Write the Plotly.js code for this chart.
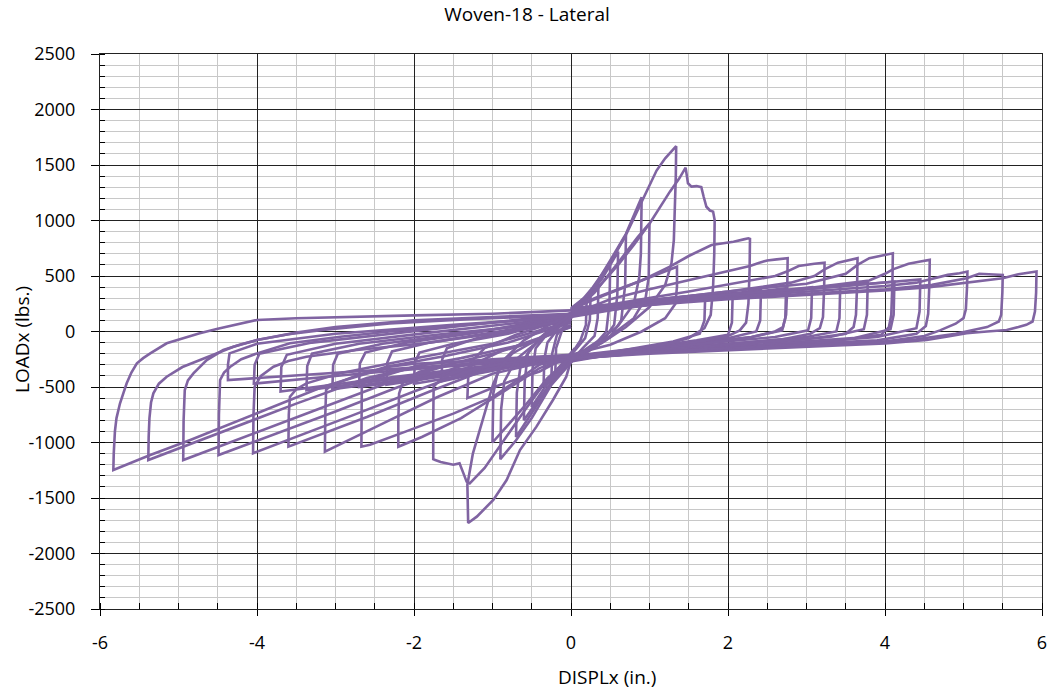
<!DOCTYPE html>
<html>
<head>
<meta charset="utf-8">
<script src="https://cdn.plot.ly/plotly-3.0.1.min.js"></script>
<style>html,body{margin:0;padding:0;background:#fff;}#chart{width:1054px;height:692px;}</style>
</head>
<body>
<div id="chart"></div>
<script>
// ---- Data (DISPLx in inches, LOADx in lbs) ----
const chartTitle = 'Woven-18 - Lateral';
const xTitle = 'DISPLx (in.)';
const yTitle = 'LOADx (lbs.)';
const xTickVals = [-6, -4, -2, 0, 2, 4, 6];
const xTickText = ['-6', '-4', '-2', '0', '2', '4', '6'];
const yTickVals = [-2500, -2000, -1500, -1000, -500, 0, 500, 1000, 1500, 2000, 2500];
const yTickText = ['-2500', '-2000', '-1500', '-1000', '-500', '0', '500', '1000', '1500', '2000', '2500'];

// small cycles around the origin, positive excursions
const centerPosX = [
  [0, 0.1, 0.2, 0.19, 0.12, 0],
  [-0.05, 0.08, 0.25, 0.24, 0.18, 0.05, -0.05],
  [0, 0.15, 0.35, 0.34, 0.3, 0.15, 0],
  [0, 0.2, 0.35, 0.5, 0.49, 0.45, 0.3, 0.1, 0],
  [0, 0.2, 0.4, 0.6, 0.59, 0.55, 0.4, 0.2, 0],
  [0, 0.2, 0.45, 0.7, 0.69, 0.64, 0.5, 0.25, 0],
  [0, 0.25, 0.5, 0.7, 0.9, 0.89, 0.87, 0.8, 0.6, 0.4, 0.1, 0],
  [0, 0.3, 0.6, 0.85, 1.0, 0.99, 0.95, 0.8, 0.5, 0.2, 0]
];
const centerPosY = [
  [140, 220, 300, 60, -80, -210],
  [100, 200, 340, 100, -60, -170, -250],
  [120, 260, 430, 120, -40, -150, -270],
  [200, 300, 450, 620, 250, 0, -120, -200, -280],
  [160, 300, 480, 720, 330, 60, -90, -190, -260],
  [180, 290, 560, 870, 420, 100, -50, -160, -240],
  [210, 350, 640, 880, 1210, 700, 490, 250, 50, -60, -200, -260],
  [150, 350, 620, 850, 975, 490, 300, 120, -40, -170, -220]
];

// primary positive excursions
const posPrimaryX = [
  [0, 0.15, 0.28, 0.5, 0.7, 0.9, 1.09, 1.2, 1.28, 1.34, 1.335, 1.32, 1.31, 1.28, 1.2, 1.0, 0.7, 0.4, 0.15, 0],
  [0, 0.3, 0.6, 0.8, 1.004, 1.26, 1.38, 1.46, 1.49, 1.535, 1.6, 1.66, 1.69, 1.725, 1.77, 1.81, 1.83, 1.825, 1.81, 1.78, 1.7, 1.5, 1.2, 0.8, 0.4, 0],
  [0, 0.3, 0.6, 0.9, 1.26, 1.5, 1.79, 1.95, 2.07, 2.2, 2.26, 2.28, 2.275, 2.26, 2.23, 2.15, 2.0, 1.5, 1.0, 0.5, 0],
  [0, 0.5, 1.0, 1.5, 2.0, 2.28, 2.4, 2.5, 2.62, 2.75, 2.76, 2.755, 2.74, 2.7, 2.6, 2.3, 1.8, 1.2, 0.6, 0],
  [0, 0.8, 1.5, 2.2, 2.6, 2.75, 2.9, 3.1, 3.23, 3.225, 3.21, 3.17, 3.05, 2.7, 2.0, 1.2, 0.5, 0],
  [0, 1.0, 2.0, 2.8, 3.1, 3.23, 3.4, 3.5, 3.65, 3.645, 3.63, 3.6, 3.5, 3.0, 2.2, 1.4, 0.6, 0],
  [0, 1.0, 2.0, 3.0, 3.5, 3.65, 3.8, 4.0, 4.10, 4.095, 4.08, 4.05, 3.95, 3.4, 2.6, 1.6, 0.8, 0],
  [0, 1.0, 2.0, 3.0, 3.8, 4.0, 4.10, 4.3, 4.45, 4.57, 4.565, 4.55, 4.52, 4.4, 3.9, 3.0, 2.0, 1.0, 0],
  [0, 1.0, 2.0, 3.0, 4.0, 4.4, 4.57, 4.8, 4.95, 5.05, 5.045, 5.03, 5.0, 4.9, 4.7, 4.5, 4.0, 3.0, 2.0, 1.0, 0],
  [0, 1.0, 2.0, 3.0, 4.0, 4.6, 5.04, 5.2, 5.4, 5.5, 5.495, 5.48, 5.45, 5.3, 4.9, 4.4, 3.8, 2.8, 1.5, 0],
  [0, 1.0, 2.0, 3.0, 4.0, 4.57, 5.04, 5.5, 5.7, 5.85, 5.93, 5.925, 5.91, 5.88, 5.8, 5.7, 5.55, 5.3, 5.04, 4.8, 4.53, 4.0, 3.0, 2.0, 1.0, 0]
];
const posPrimaryY = [
  [190, 290, 400, 620, 870, 1170, 1450, 1560, 1620, 1670, 1400, 1050, 824, 614, 420, 220, 40, -100, -200, -250],
  [160, 360, 600, 780, 975, 1260, 1380, 1476, 1335, 1305, 1310, 1300, 1214, 1124, 1090, 1080, 1004, 700, 400, 150, 30, -60, -120, -170, -210, -240],
  [200, 300, 380, 460, 584, 680, 779, 795, 809, 830, 840, 835, 550, 250, 80, 10, -40, -110, -160, -200, -250],
  [150, 290, 380, 460, 540, 590, 620, 640, 650, 665, 660, 400, 150, 40, 0, -50, -100, -150, -190, -220],
  [180, 280, 360, 450, 500, 540, 590, 610, 620, 400, 130, 30, -20, -70, -110, -160, -210, -260],
  [170, 280, 360, 440, 500, 560, 620, 635, 660, 420, 150, 40, -20, -70, -110, -150, -200, -230],
  [190, 280, 360, 430, 520, 600, 660, 690, 705, 450, 150, 40, -30, -80, -110, -150, -200, -250],
  [160, 270, 330, 390, 460, 520, 560, 610, 630, 645, 420, 160, 50, -20, -80, -110, -140, -180, -220],
  [180, 260, 310, 360, 410, 440, 470, 510, 525, 540, 400, 200, 120, 70, 10, -40, -90, -120, -150, -190, -240],
  [170, 255, 300, 340, 380, 420, 480, 520, 515, 510, 350, 150, 90, 40, -20, -70, -100, -130, -170, -230],
  [150, 240, 290, 330, 370, 400, 440, 480, 515, 530, 540, 350, 180, 90, 60, 40, 13, 0, -16, -45, -77, -107, -140, -170, -200, -240]
];

// trailing positive excursions
const posTrailX = [
  [0, 0.4, 0.9, 1.35, 1.35, 1.33, 1.2, 0.9, 0.5, 0],
  [0, 0.6, 1.2, 1.71, 1.70, 1.64, 1.3, 0.8, 0],
  [0, 0.8, 1.5, 2.06, 2.05, 2.0, 1.6, 1.0, 0.5, 0],
  [0, 1.0, 1.8, 2.42, 2.41, 2.36, 2.0, 1.4, 0.7, 0],
  [0, 1.0, 2.0, 2.74, 2.73, 2.69, 2.3, 1.6, 0.8, 0],
  [0, 1.0, 2.0, 3.07, 3.06, 3.02, 2.6, 1.8, 0.9, 0],
  [0, 1.2, 2.4, 3.43, 3.42, 3.38, 3.0, 2.2, 1.2, 0],
  [0, 1.2, 2.5, 3.78, 3.77, 3.73, 3.3, 2.4, 1.2, 0],
  [0, 1.3, 2.8, 4.12, 4.11, 4.07, 3.6, 2.6, 1.3, 0],
  [0, 1.4, 3.0, 4.45, 4.44, 4.4, 3.9, 2.8, 1.4, 0]
];
const posTrailY = [
  [200, 320, 460, 584, 404, 250, 120, 0, -120, -210],
  [140, 250, 300, 330, 100, -20, -90, -150, -250],
  [190, 260, 310, 345, 80, -30, -80, -140, -180, -220],
  [160, 270, 320, 375, 100, 0, -60, -110, -170, -260],
  [210, 280, 330, 390, 120, 10, -50, -100, -160, -230],
  [130, 250, 320, 400, 120, 10, -50, -100, -160, -270],
  [180, 270, 340, 420, 120, 0, -50, -100, -150, -240],
  [150, 260, 350, 440, 150, 20, -50, -100, -160, -220],
  [200, 280, 370, 450, 150, 20, -60, -110, -170, -250],
  [170, 270, 380, 470, 180, 30, -50, -110, -170, -230]
];

// small cycles around the origin, negative excursions
const centerNegX = [
  [0, -0.1, -0.2, -0.19, -0.12, 0],
  [0.05, -0.08, -0.25, -0.24, -0.18, -0.05, 0.05],
  [0, -0.15, -0.35, -0.34, -0.3, -0.15, 0],
  [0, -0.2, -0.35, -0.5, -0.49, -0.45, -0.3, -0.1, 0],
  [0, -0.2, -0.4, -0.6, -0.59, -0.55, -0.4, -0.2, 0],
  [0, -0.2, -0.45, -0.7, -0.69, -0.64, -0.5, -0.25, 0],
  [0, -0.25, -0.5, -0.7, -0.9, -0.89, -0.85, -0.7, -0.4, 0],
  [0, -0.3, -0.6, -0.85, -1.0, -0.99, -0.93, -0.75, -0.4, 0]
];
const centerNegY = [
  [-200, -290, -370, -150, 0, 110],
  [-150, -260, -420, -200, -30, 80, 180],
  [-240, -320, -500, -250, -100, 40, 140],
  [-200, -380, -520, -680, -350, -150, -20, 100, 170],
  [-260, -420, -600, -800, -450, -200, -60, 60, 130],
  [-230, -400, -680, -950, -550, -300, -140, 20, 150],
  [-280, -480, -780, -980, -1150, -700, -450, -250, -80, 120],
  [-230, -420, -680, -880, -1000, -560, -350, -200, -60, 160]
];

// primary negative excursions
const negPrimaryX = [
  [0, -0.06, -0.23, -0.44, -0.65, -0.82, -0.99, -1.2, -1.31, -1.315, -1.32, -1.25, -1.1, -0.99, -0.85, -0.6, -0.3, 0],
  [0, -0.3, -0.6, -0.9, -1.1, -1.29, -1.33, -1.37, -1.42, -1.5, -1.59, -1.66, -1.73, -1.755, -1.755, -1.75, -1.71, -1.59, -1.45, -1.29, -1.05, -0.86, -0.44, 0],
  [0, -0.4, -0.9, -1.4, -1.9, -2.1, -2.2, -2.2, -2.19, -2.15, -2.1, -1.93, -1.7, -1.5, -1.0, -0.5, 0],
  [0, -0.4, -0.99, -1.5, -2.1, -2.56, -2.67, -2.67, -2.665, -2.63, -2.56, -2.35, -2.0, -1.4, -0.7, 0],
  [0, -0.5, -1.0, -1.7, -2.4, -2.9, -3.135, -3.13, -3.12, -3.07, -2.99, -2.77, -2.35, -1.6, -0.8, 0],
  [0, -0.6, -1.1, -1.8, -2.6, -3.2, -3.6, -3.595, -3.58, -3.5, -3.37, -2.94, -2.52, -1.88, -1.0, 0],
  [0, -0.7, -1.2, -2.0, -2.8, -3.5, -4.05, -4.045, -4.03, -3.95, -3.79, -3.6, -3.37, -2.73, -1.88, -1.0, 0],
  [0, -0.8, -1.4, -2.2, -3.0, -3.8, -4.49, -4.485, -4.47, -4.42, -4.34, -4.2, -4.0, -3.58, -2.94, -2.31, -1.5, -0.7, 0],
  [0, -1.0, -1.6, -2.4, -3.3, -4.2, -4.94, -4.935, -4.92, -4.88, -4.81, -4.64, -4.43, -4.2, -4.0, -3.6, -3.16, -2.31, -1.3, 0],
  [0, -1.0, -1.8, -2.6, -3.5, -4.5, -5.0, -5.2, -5.385, -5.38, -5.37, -5.35, -5.32, -5.25, -5.15, -4.95, -4.73, -4.5, -4.3, -4.0, -3.5, -3.0, -2.0, -1.0, 0],
  [0, -1.0, -2.0, -2.31, -3.16, -4.0, -4.85, -5.36, -5.6, -5.83, -5.825, -5.81, -5.79, -5.745, -5.7, -5.66, -5.6, -5.53, -5.45, -5.36, -5.15, -4.95, -4.73, -4.5, -4.3, -4.0, -3.5, -3.0, -2.0, -1.0, 0]
];
const negPrimaryY = [
  [-260, -407, -617, -857, -1068, -1338, -1518, -1668, -1725, -1550, -1380, -1100, -750, -470, -250, -80, 50, 170],
  [-250, -430, -720, -1020, -1230, -1368, -1353, -1278, -1188, -1200, -1188, -1175, -1158, -1150, -800, -497, -467, -407, -360, -317, -230, -167, -77, 43],
  [-230, -330, -560, -780, -950, -1010, -1038, -800, -560, -470, -430, -362, -320, -287, -200, -100, 60],
  [-220, -300, -587, -740, -900, -1020, -1038, -700, -500, -460, -437, -392, -317, -240, -130, 40],
  [-260, -300, -380, -590, -830, -1000, -1083, -750, -527, -490, -467, -407, -317, -220, -100, 80],
  [-220, -270, -350, -540, -770, -930, -1038, -750, -587, -520, -467, -377, -317, -227, -110, 90],
  [-240, -270, -330, -540, -760, -950, -1097, -750, -497, -400, -317, -265, -227, -167, -107, -20, 110],
  [-220, -260, -310, -500, -720, -930, -1113, -750, -437, -370, -317, -250, -197, -106, -47, 0, 50, 100, 140],
  [-230, -270, -310, -480, -720, -960, -1158, -800, -527, -440, -377, -257, -167, -115, -77, -25, 13, 73, 110, 150],
  [-210, -250, -290, -420, -650, -920, -1060, -1110, -1158, -950, -780, -640, -557, -470, -407, -320, -257, -190, -137, -77, -10, 40, 100, 130, 160],
  [-230, -260, -290, -317, -497, -737, -977, -1113, -1180, -1248, -1100, -900, -780, -647, -550, -467, -370, -287, -240, -197, -106, -60, -16, 25, 59, 104, 120, 130, 145, 160, 190]
];

// trailing negative excursions
const negTrailX = [
  [0, -0.4, -0.9, -1.32, -1.31, -1.28, -1.1, -0.7, 0],
  [0, -0.6, -1.2, -1.65, -1.64, -1.58, -1.2, -0.6, 0],
  [0, -0.7, -1.4, -2.0, -1.99, -1.93, -1.5, -0.8, 0],
  [0, -0.8, -1.6, -2.35, -2.34, -2.28, -1.8, -1.0, 0],
  [0, -0.9, -1.8, -2.70, -2.69, -2.62, -2.1, -1.2, 0],
  [0, -1.0, -2.0, -3.04, -3.03, -2.97, -2.4, -1.4, 0],
  [0, -1.1, -2.2, -3.37, -3.36, -3.3, -2.7, -1.6, 0],
  [0, -1.2, -2.5, -3.70, -3.69, -3.62, -3.0, -1.8, 0],
  [0, -1.3, -2.7, -4.04, -4.03, -3.97, -3.3, -2.0, 0],
  [0, -1.5, -3.0, -4.37, -4.37, -4.35, -4.0, -3.0, -1.5, 0]
];
const negTrailY = [
  [-210, -360, -480, -600, -420, -280, -150, -30, 130],
  [-250, -300, -380, -450, -250, -150, -60, 20, 100],
  [-220, -310, -400, -470, -280, -190, -110, -20, 140],
  [-260, -320, -400, -480, -280, -180, -100, -10, 110],
  [-230, -320, -410, -500, -290, -190, -100, -10, 150],
  [-270, -320, -420, -520, -300, -200, -110, -20, 120],
  [-240, -320, -420, -530, -310, -200, -110, -20, 90],
  [-220, -320, -430, -540, -320, -210, -110, -10, 130],
  [-250, -300, -380, -470, -300, -200, -100, 0, 160],
  [-230, -300, -370, -437, -300, -197, -110, -20, 60, 130]
];

// ---- Build traces ----
const LINE_COLOR = '#8064A2';
const FONT = '"Open Sans", "DejaVu Sans", sans-serif';
const traces = [];
function addGroup(xs, ys) {
  for (let i = 0; i < xs.length; i++) {
    traces.push({
      type: 'scatter', mode: 'lines',
      x: xs[i], y: ys[i],
      line: { color: LINE_COLOR, width: 2.6 },
      hoverinfo: 'skip', showlegend: false
    });
  }
}
addGroup(negTrailX, negTrailY);
addGroup(posTrailX, posTrailY);
addGroup(negPrimaryX, negPrimaryY);
addGroup(posPrimaryX, posPrimaryY);
addGroup(centerNegX, centerNegY);
addGroup(centerPosX, centerPosY);

const layout = {
  width: 1054, height: 692,
  margin: { l: 100, r: 12, t: 54, b: 83, pad: 0 },
  paper_bgcolor: '#ffffff', plot_bgcolor: '#ffffff',
  showlegend: false,
  font: { family: FONT, color: '#000000' },
  title: {
    text: chartTitle,
    font: { family: FONT, size: 19, color: '#000000' },
    x: 0.5, xref: 'container', xanchor: 'center',
    y: 1 - 14 / 692, yref: 'container', yanchor: 'middle'
  },
  xaxis: {
    range: [-6, 6], tickmode: 'array', tickvals: xTickVals, ticktext: xTickText,
    ticks: 'outside', ticklen: 6, tickcolor: '#000', tickwidth: 1,
    ticklabelstandoff: 11,
    tickfont: { family: FONT, size: 18, color: '#000' },
    showgrid: true, gridcolor: '#222222', gridwidth: 1,
    zeroline: true, zerolinecolor: '#222222', zerolinewidth: 1,
    showline: true, linecolor: '#222222', linewidth: 1, mirror: true,
    minor: { dtick: 0.5, tick0: 0, ticks: 'inside', ticklen: 6, tickcolor: '#000',
             showgrid: true, gridcolor: '#c8c8c8', gridwidth: 1 },
    automargin: false, fixedrange: true
  },
  yaxis: {
    range: [-2500, 2500], tickmode: 'array', tickvals: yTickVals, ticktext: yTickText,
    ticks: 'outside', ticklen: 8, tickcolor: '#000', tickwidth: 1,
    ticklabelstandoff: 12,
    tickfont: { family: FONT, size: 18, color: '#000' },
    showgrid: true, gridcolor: '#222222', gridwidth: 1,
    zeroline: true, zerolinecolor: '#222222', zerolinewidth: 1,
    showline: true, linecolor: '#222222', linewidth: 1, mirror: true,
    minor: { dtick: 100, tick0: 0, ticks: 'inside', ticklen: 5, tickcolor: '#000',
             showgrid: true, gridcolor: '#c8c8c8', gridwidth: 1 },
    automargin: false, fixedrange: true
  },
  annotations: [
    { text: xTitle, xref: 'paper', yref: 'paper', x: (607 - 100) / 942, y: -(677 - 609) / 555,
      xanchor: 'center', yanchor: 'middle', showarrow: false,
      font: { family: FONT, size: 19, color: '#000' } },
    { text: yTitle, xref: 'paper', yref: 'paper', x: -(100 - 22) / 942, y: (609 - 340) / 555,
      xanchor: 'center', yanchor: 'middle', showarrow: false, textangle: -90,
      font: { family: FONT, size: 19, color: '#000' } }
  ]
};

Plotly.newPlot('chart', traces, layout, { staticPlot: true, displayModeBar: false });
</script>
</body>
</html>
